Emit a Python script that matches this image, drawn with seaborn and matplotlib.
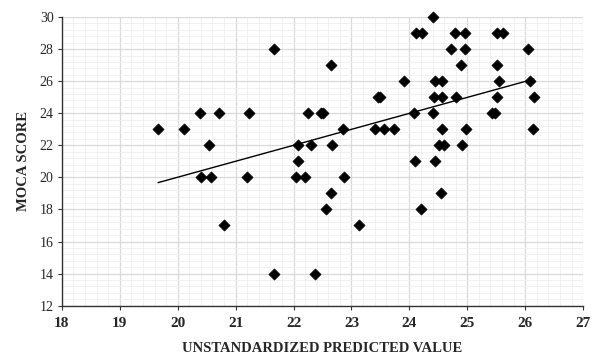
import matplotlib
matplotlib.use("Agg")
import matplotlib.pyplot as plt
from matplotlib.ticker import MultipleLocator
import seaborn as sns
import pandas as pd
import numpy as np

# values
predicted = [19.66, 20.11, 20.38, 20.71, 21.23, 20.54, 21.67, 22.08, 22.07, 20.41,
             20.57, 21.19, 22.04, 20.80, 21.67,
             24.40, 24.11, 24.22, 24.79, 24.96, 25.51, 25.62, 24.72, 24.96, 26.04,
             22.64, 24.90, 25.52, 23.90, 24.45, 24.56, 25.55, 26.09,
             23.46, 23.50, 24.42, 24.57, 24.80, 25.52, 26.15,
             22.25, 22.47, 22.51, 24.08, 24.40, 25.43, 25.48,
             22.85, 23.41, 23.56, 23.73, 24.56, 24.98, 26.13,
             22.31, 22.66, 24.51, 24.59, 24.91,
             24.10, 24.45, 22.20, 22.87,
             22.64, 24.54, 22.56, 24.20, 23.13, 22.37]
moca = [23, 23, 24, 24, 24, 22, 28, 22, 21, 20,
        20, 20, 20, 17, 14,
        30, 29, 29, 29, 29, 29, 29, 28, 28, 28,
        27, 27, 27, 26, 26, 26, 26, 26,
        25, 25, 25, 25, 25, 25, 25,
        24, 24, 24, 24, 24, 24, 24,
        23, 23, 23, 23, 23, 23, 23,
        22, 22, 22, 22, 22,
        21, 21, 20, 20,
        19, 19, 18, 18, 17, 14]

df = pd.DataFrame({"pred": predicted, "moca": moca})

sns.set_style("white")
plt.rcParams["font.family"] = ["Liberation Serif", "DejaVu Serif"]

fig = plt.figure(figsize=(5.95, 3.55), dpi=100)
ax = fig.add_axes([0.104, 0.139, 0.876, 0.813])

sns.regplot(x="pred", y="moca", data=df, ci=None, truncate=True, ax=ax,
            marker="D", color="black",
            scatter_kws={"s": 32, "alpha": 1, "edgecolor": "black", "linewidths": 0.5,
                         "zorder": 3, "clip_on": False},
            line_kws={"color": "black", "linewidth": 1.0, "zorder": 2})

ax.set_xlim(18, 27)
ax.set_ylim(12, 30)
ax.xaxis.set_major_locator(MultipleLocator(1))
ax.xaxis.set_minor_locator(MultipleLocator(0.2))
ax.yaxis.set_major_locator(MultipleLocator(2))
ax.yaxis.set_minor_locator(MultipleLocator(0.4))
ax.grid(which="major", color="#d9d9d9", linewidth=0.9, zorder=0)
ax.grid(which="minor", color="#efefef", linewidth=0.6, zorder=0)
ax.set_axisbelow(True)

for s in ["top", "right"]:
    ax.spines[s].set_visible(False)
for s in ["left", "bottom"]:
    ax.spines[s].set_color("#333333")
    ax.spines[s].set_linewidth(1.0)

ax.tick_params(axis="both", which="major", direction="out", length=3, width=0.8,
               color="#333333", bottom=True, left=True)
ax.tick_params(axis="both", which="minor", length=0)
ax.tick_params(axis="y", labelsize=10, pad=3)
ax.tick_params(axis="x", labelsize=11, pad=5)
for lab in ax.get_xticklabels():
    lab.set_fontweight("bold")

ax.set_xlabel("UNSTANDARDIZED PREDICTED VALUE", fontsize=10.5, fontweight="bold", labelpad=9)
ax.set_ylabel("MOCA SCORE", fontsize=10.5, fontweight="bold", labelpad=7)

fig.savefig("out.png", dpi=100)
